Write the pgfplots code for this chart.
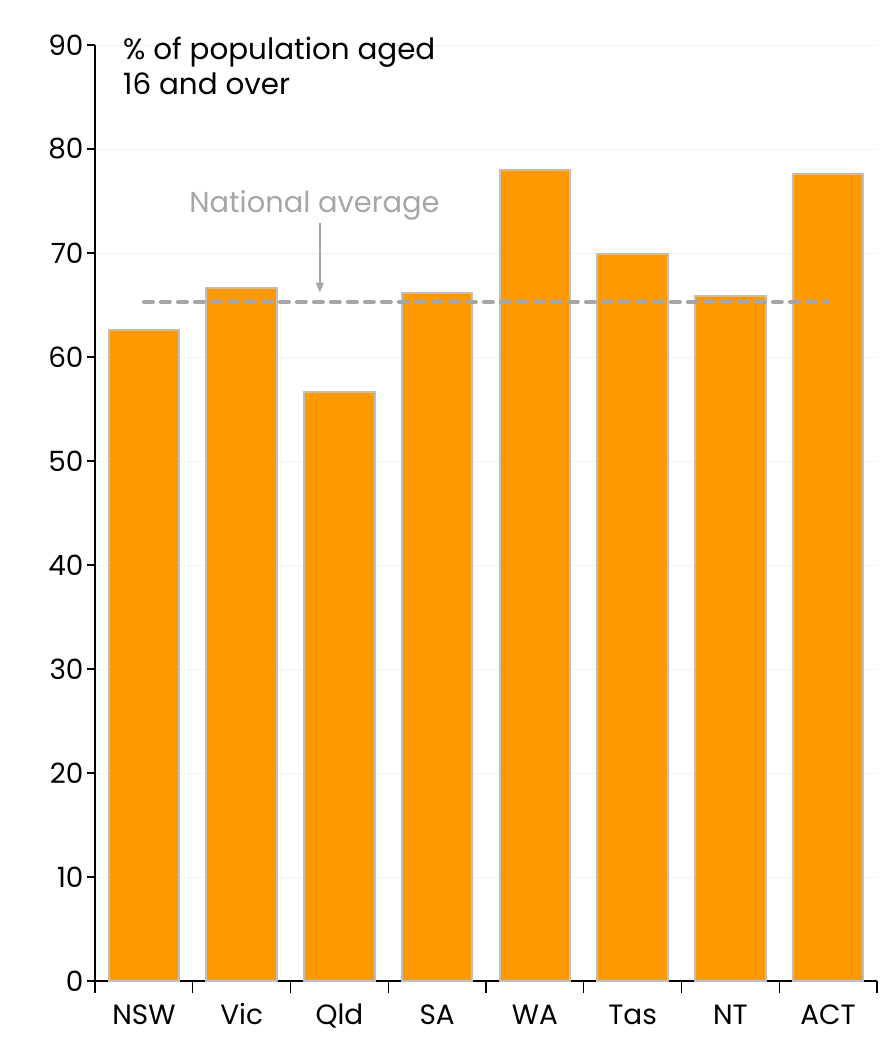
\documentclass[border=0pt]{standalone}
\usepackage{fontspec}
\setmainfont{Poppins}
\usepackage{pgfplots}
\pgfplotsset{compat=1.18}
\usetikzlibrary{arrows.meta}
\definecolor{barorange}{HTML}{FF9900}
\definecolor{bargray}{HTML}{BFBFBF}
\definecolor{avggray}{HTML}{A6A6A6}
\definecolor{gridgray}{HTML}{F2F2F2}
\begin{document}
\fontsize{28}{33}\selectfont
\begin{tikzpicture}
\begin{axis}[
  scale only axis, width=782bp, height=936bp,
  xmin=-0.5, xmax=7.5, ymin=0, ymax=90,
  axis x line*=bottom, axis y line*=left,
  ybar, bar width=0.72,
  ytick={0,10,...,90},
  xtick={0,...,7}, xticklabels={NSW,Vic,Qld,SA,WA,Tas,NT,ACT},
  major x tick style={draw=none},
  minor xtick={-0.5,0.5,...,7.5},
  tick align=outside,
  major tick length=8bp, minor tick length=12bp,
  ymajorgrids, grid style={color=gridgray, line width=0.8bp},
  tick style={black, line width=1.2bp},
  axis line style={black, line width=1.2bp},
  /pgf/number format/assume math mode=true,
  ticklabel style={font=\fontsize{28}{33}\selectfont},
  yticklabel style={xshift=6bp},
  xticklabel style={yshift=-6bp, text height=0.72em, text depth=0.05em},
  clip=false,
]
\addplot[fill=barorange, draw=bargray, line width=2bp] coordinates {(0,62.6) (1,66.6) (2,56.6) (3,66.2) (4,78.0) (5,69.9) (6,65.9) (7,77.6)};
\addplot[sharp plot, avggray, line width=4bp, line cap=round, dash pattern=on 9bp off 8bp] coordinates {(0,65.3) (7,65.3)};
\draw[avggray, line width=1.8bp, -{Triangle[length=10bp,width=8bp]}] (axis cs:1.8,72.9) -- (axis cs:1.8,66.2);
\node[avggray, anchor=base, inner sep=0pt, font=\fontsize{29}{34}\selectfont] at (axis cs:1.745,73.9) {National average};
\node[anchor=north west, align=left, inner sep=0pt, font=\fontsize{29.5}{34.5}\selectfont] at (axis cs:-0.5,90) [xshift=28bp, yshift=8bp] {\% of population aged\\16 and over};
\coordinate (o) at (axis cs:-0.5,0);
\end{axis}
\path (o) ++(-95bp,-67bp) rectangle ++(883bp,1048bp);
\end{tikzpicture}
\end{document}
